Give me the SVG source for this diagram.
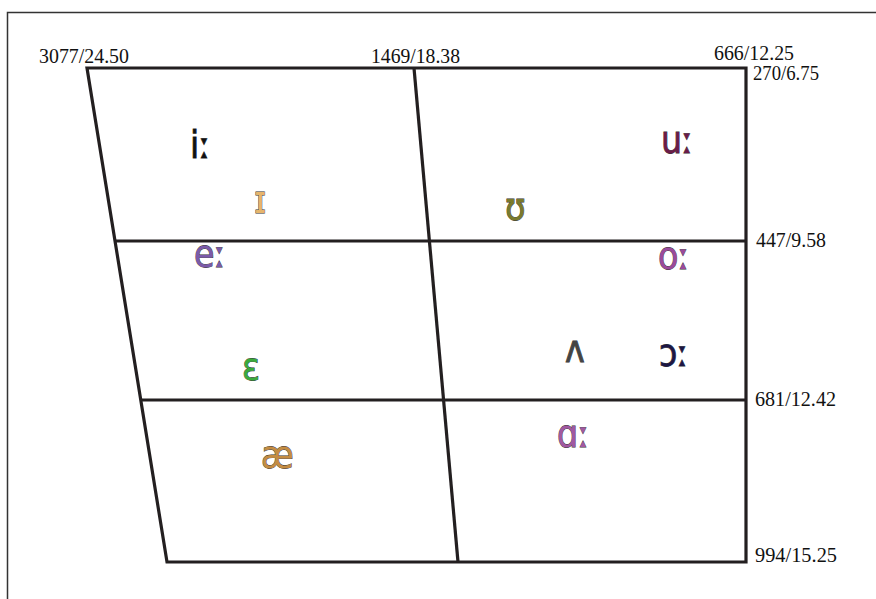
<svg xmlns="http://www.w3.org/2000/svg" width="876" height="599" viewBox="0 0 876 599">
<style>
.lbl{font-family:"Liberation Serif","Times New Roman",serif;font-size:20px;fill:#111}
.grid{fill:none;stroke:#231f20;stroke-width:3.2;stroke-linejoin:miter}
.v{font-family:"DejaVu Sans","Noto Sans",sans-serif;font-stretch:condensed;font-size:37px;stroke:#333;stroke-width:0.8;paint-order:stroke}
</style>
<rect width="876" height="599" fill="#fff"/>
<g id="frame"><path d="M7.5,599 V12.5 H876" fill="none" stroke="#333" stroke-width="1.5"/></g>
<g id="grid">
<path class="grid" d="M87,68 H746 V562 H167 Z"/>
<path class="grid" d="M414,68 L458,562"/>
<path class="grid" d="M115,241 H746"/>
<path class="grid" d="M141,400 H746"/>
</g>
<g id="labels">
<text class="lbl" x="39" y="63" textLength="90" lengthAdjust="spacingAndGlyphs">3077/24.50</text>
<text class="lbl" x="371" y="63" textLength="89" lengthAdjust="spacingAndGlyphs">1469/18.38</text>
<text class="lbl" x="714" y="60" textLength="80" lengthAdjust="spacingAndGlyphs">666/12.25</text>
<text class="lbl" x="753" y="80" textLength="66" lengthAdjust="spacingAndGlyphs">270/6.75</text>
<text class="lbl" x="756" y="247" textLength="70" lengthAdjust="spacingAndGlyphs">447/9.58</text>
<text class="lbl" x="755" y="406" textLength="81" lengthAdjust="spacingAndGlyphs">681/12.42</text>
<text class="lbl" x="755" y="562" textLength="82" lengthAdjust="spacingAndGlyphs">994/15.25</text>
</g>
<g id="vowel-i"><text class="v" x="190" y="158" fill="#111">iː</text></g>
<g id="vowel-I"><text class="v" x="254" y="213" fill="#e6b56c">ɪ</text></g>
<g id="vowel-U"><text class="v" x="505" y="220" fill="#7a7a2c">ʊ</text></g>
<g id="vowel-u"><text class="v" x="661" y="153" fill="#6b1b48">uː</text></g>
<g id="vowel-e"><text class="v" x="194" y="267" fill="#7b5aaa">eː</text></g>
<g id="vowel-o"><text class="v" x="658" y="269" fill="#9b4a9c">oː</text></g>
<g id="vowel-E"><text class="v" x="242" y="380" fill="#3aaa3c">ɛ</text></g>
<g id="vowel-V"><text class="v" x="565" y="362" fill="#444">ʌ</text></g>
<g id="vowel-O"><text class="v" x="659" y="366" fill="#1c1644">ɔː</text></g>
<g id="vowel-ae"><text class="v" x="261" y="468" fill="#c48c42">æ</text></g>
<g id="vowel-a"><text class="v" x="557" y="447" fill="#a258a2">ɑː</text></g>
</svg>
